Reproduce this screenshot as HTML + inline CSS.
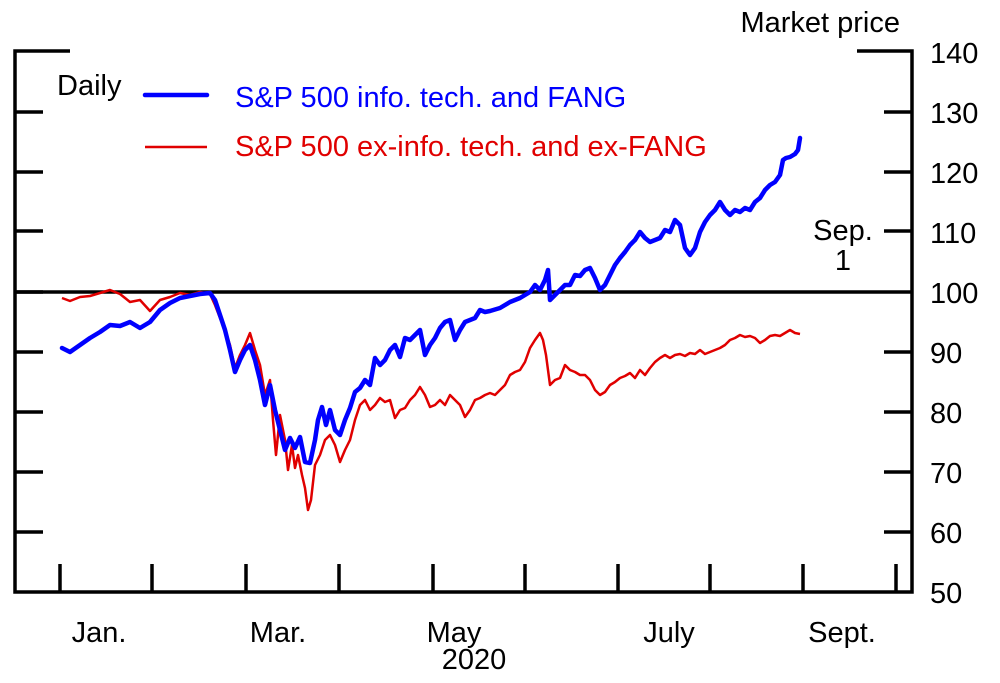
<!DOCTYPE html>
<html><head><meta charset="utf-8"><style>
body{margin:0;background:#fff}
svg text{font-family:"Liberation Sans",sans-serif;font-size:29px;fill:#000}
</style></head><body>
<svg width="1000" height="678" viewBox="0 0 1000 678" xmlns="http://www.w3.org/2000/svg">
<g stroke="#000" stroke-width="3.5" fill="none">
<path d="M70 51H15V592H912V51H857"/>
<path d="M15 112H43M15 172H43M15 231H43M15 292H43M15 352H43M15 412H43M15 472H43M15 532H43"/>
<path d="M884 112H912M884 172H912M884 231H912M884 352H912M884 412H912M884 472H912M884 532H912"/>
<path d="M15 292H912"/>
<path d="M60 564V592M152 564V592M246 564V592M339 564V592M433 564V592M525 564V592M618 564V592M710 564V592M803 564V592M896 564V592"/>
</g>
<g>
<text x="930" y="63">140</text><text x="930" y="123">130</text><text x="930" y="183">120</text><text x="930" y="243">110</text><text x="930" y="303">100</text><text x="930" y="363">90</text><text x="930" y="423">80</text><text x="930" y="483">70</text><text x="930" y="543">60</text><text x="930" y="603">50</text>
</g>
<g text-anchor="middle">
<text x="99" y="642">Jan.</text><text x="278" y="642">Mar.</text><text x="454" y="642">May</text><text x="669" y="642">July</text><text x="842" y="642">Sept.</text><text x="474" y="669">2020</text>
<text x="843" y="240">Sep.</text><text x="843" y="270">1</text>
</g>
<text x="900" y="32" text-anchor="end">Market price</text>
<text x="57" y="95">Daily</text>
<line x1="145" y1="95" x2="207" y2="95" stroke="#0000ff" stroke-width="4.5" stroke-linecap="round"/>
<text x="235" y="107" style="fill:#0000ff">S&amp;P 500 info. tech. and FANG</text>
<line x1="145" y1="147" x2="207" y2="147" stroke="#e00000" stroke-width="2.5"/>
<text x="235" y="156" style="fill:#e00000">S&amp;P 500 ex-info. tech. and ex-FANG</text>
<polyline fill="none" stroke="#e00000" stroke-width="2.5" stroke-linejoin="round" points="62,298 70,301 80,297 90,296 100,293 110,290 120,294 130,302 140,300 150,311 160,300 170,297 180,293 190,295 200,292 210,294 215,305 220,318 225,330 230,345 235,368 240,355 245,345 250,333 255,350 260,365 265,395 270,380 273,420 276,455 280,415 285,440 288,470 292,445 295,468 298,455 302,475 305,488 308,510 311,500 315,465 320,455 325,440 330,435 335,445 340,462 345,450 350,440 355,420 360,405 365,400 370,410 375,405 380,398 385,402 390,400 395,418 400,410 405,408 410,400 415,395 420,387 425,395 430,407 435,405 440,400 445,405 450,395 455,400 460,405 465,417 470,410 475,400 480,398 485,395 490,393 495,395 500,390 505,385 510,375 515,372 520,370 525,362 530,348 535,340 540,333 543,340 546,355 550,385 555,380 560,378 565,365 570,370 575,372 580,375 585,375 590,380 595,390 600,395 605,392 610,385 615,382 620,378 625,376 630,373 635,378 640,370 645,375 650,368 655,362 660,358 665,355 670,358 675,355 680,354 685,356 690,353 695,354 700,350 705,354 710,352 715,350 720,348 725,345 730,340 735,338 740,335 745,337 750,336 755,338 760,343 765,340 770,336 775,335 780,336 785,333 790,330 795,333 800,334"/>
<polyline fill="none" stroke="#0000ff" stroke-width="4.5" stroke-linejoin="round" stroke-linecap="round" points="62,348 70,352 80,345 90,338 100,332 110,325 120,326 130,322 140,328 150,322 160,310 170,303 180,298 190,296 200,294 210,293 215,300 220,315 225,330 230,350 235,372 240,360 245,350 250,345 255,360 260,380 265,405 270,385 275,410 280,430 285,450 290,438 295,448 300,437 305,462 310,463 315,440 318,420 322,407 326,425 330,410 335,430 340,435 345,420 350,408 355,392 360,388 365,380 370,385 375,358 380,365 385,360 390,350 395,345 400,357 405,338 410,340 415,335 420,330 425,355 430,345 435,338 440,328 445,322 450,320 455,340 460,330 465,322 470,320 475,318 480,310 485,312 490,311 500,308 510,302 520,298 530,292 535,285 540,290 545,280 548,270 550,300 555,295 560,290 565,285 570,285 575,275 580,276 585,270 590,268 595,278 600,290 605,285 610,275 615,265 620,258 625,252 630,245 635,240 640,232 645,238 650,242 655,240 660,238 665,230 670,232 675,220 680,225 685,248 690,255 695,248 700,232 705,222 710,215 715,210 720,202 725,210 730,215 735,210 740,212 745,208 750,210 755,202 760,198 765,190 770,185 775,182 780,175 783,160 786,158 790,157 795,154 798,150 800,138"/>
</svg>
</body></html>
